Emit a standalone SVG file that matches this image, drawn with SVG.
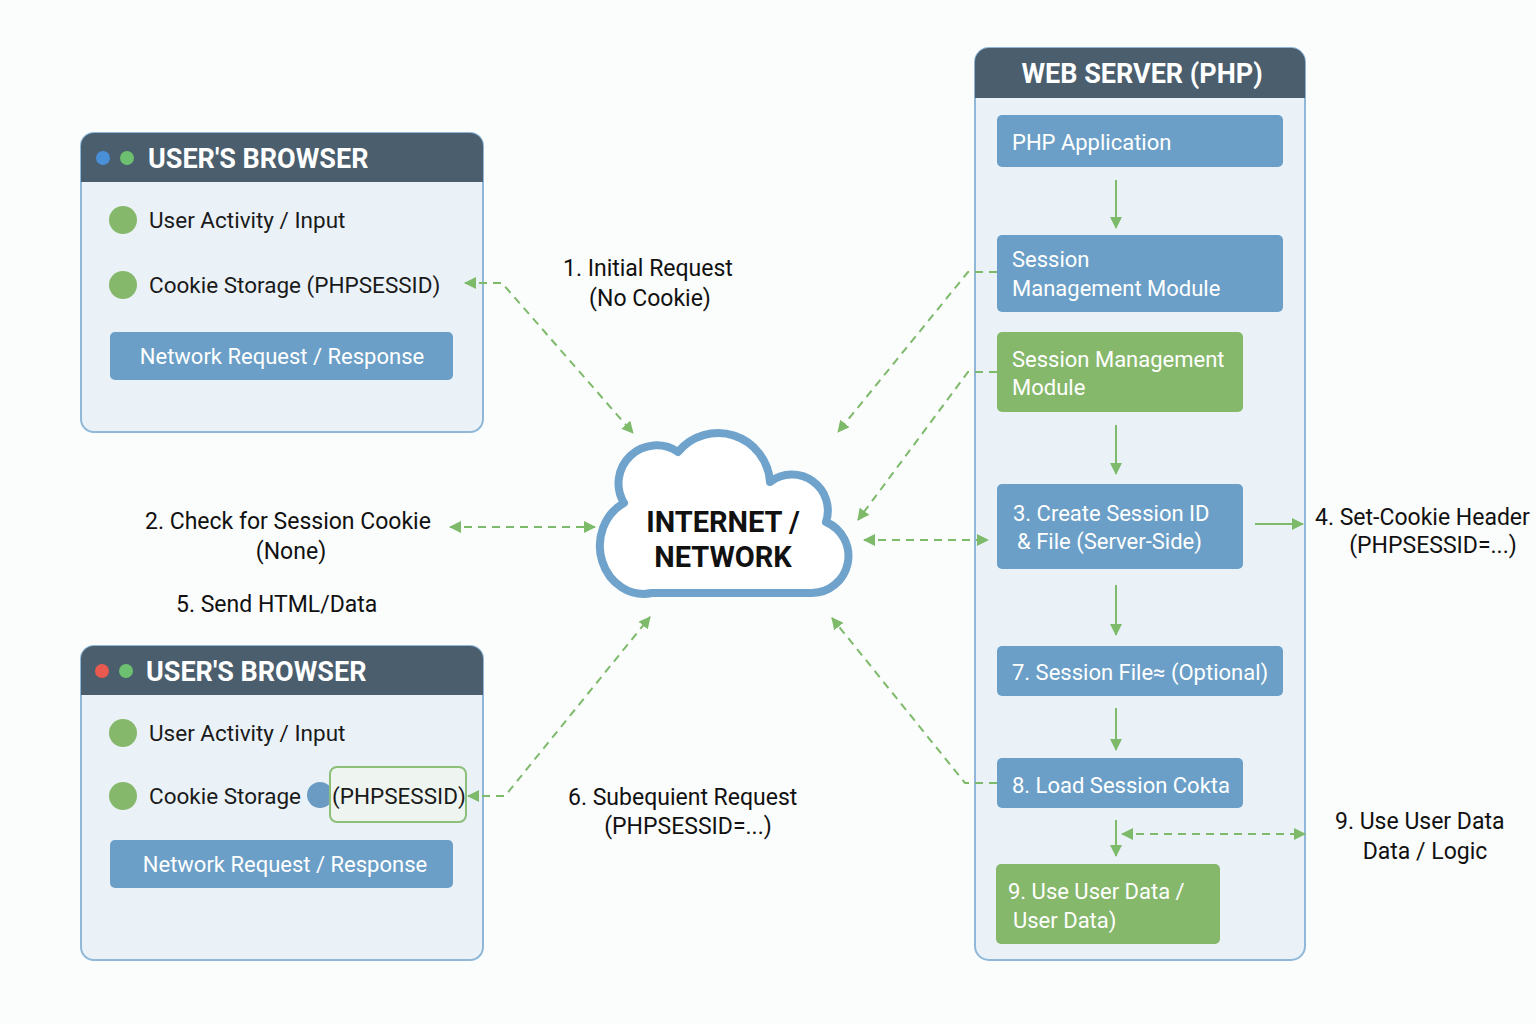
<svg xmlns="http://www.w3.org/2000/svg" width="1536" height="1024" viewBox="0 0 1536 1024">
<defs>
<style>
text{font-family:Roboto,"Liberation Sans",sans-serif;}
.panel{fill:#eaf2f8;stroke:#8fb8d8;stroke-width:2;}
.hdr{fill:#4a5e6d;}
.title{fill:#fff;font-weight:bold;font-size:27px;}
.item{fill:#1a1a1a;font-size:22.5px;}
.dot{fill:#86b86c;}
.blue{fill:#6b9fc7;}
.green{fill:#86b86c;}
.btxt{fill:#fff;font-size:22px;}
.lbl{fill:#111;font-size:23px;}
.dash{fill:none;stroke:#7dba6a;stroke-width:2;stroke-dasharray:8 6;}
.solid{fill:none;stroke:#7dba6a;stroke-width:2;}
</style>
<marker id="ah" viewBox="0 0 12 12" refX="11" refY="6" markerWidth="12" markerHeight="12" markerUnits="userSpaceOnUse" orient="auto-start-reverse">
<path d="M0,0 L12,6 L0,12 Z" fill="#7dba6a"/>
</marker>
</defs>
<rect width="1536" height="1024" fill="#fbfcfc"/>

<g id="browser-top">
<rect class="panel" x="81" y="133" width="402" height="299" rx="13"/>
<path class="hdr" d="M81,182 V146 a13,13 0 0 1 13,-13 H470 a13,13 0 0 1 13,13 V182 Z"/>
<circle cx="103" cy="158" r="7" fill="#4a90d9"/>
<circle cx="127" cy="158" r="7" fill="#6cc070"/>
<text class="title" x="148" y="168">USER'S BROWSER</text>
<circle class="dot" cx="123" cy="220" r="14"/>
<text class="item" x="149" y="228">User Activity / Input</text>
<circle class="dot" cx="123" cy="285" r="14"/>
<text class="item" x="149" y="293">Cookie Storage (PHPSESSID)</text>
<rect class="blue" x="110" y="332" width="343" height="48" rx="5"/>
<text class="btxt" x="282" y="364" text-anchor="middle">Network Request / Response</text>
</g>

<g id="browser-bottom">
<rect class="panel" x="81" y="646" width="402" height="314" rx="13"/>
<path class="hdr" d="M81,695 V659 a13,13 0 0 1 13,-13 H470 a13,13 0 0 1 13,13 V695 Z"/>
<circle cx="102" cy="671" r="7" fill="#e85a4f"/>
<circle cx="126" cy="671" r="7" fill="#6cc070"/>
<text class="title" x="146" y="681">USER'S BROWSER</text>
<circle class="dot" cx="123" cy="733" r="14"/>
<text class="item" x="149" y="741">User Activity / Input</text>
<circle class="dot" cx="123" cy="796" r="14"/>
<text class="item" x="149" y="804">Cookie Storage</text>
<circle cx="320" cy="795" r="13" fill="#6b9ac2"/>
<rect x="330" y="767" width="136" height="55" rx="7" fill="#eef4f0" stroke="#8cc07a" stroke-width="2"/>
<text class="item" x="332" y="804">(PHPSESSID)</text>
<rect class="blue" x="110" y="840" width="343" height="48" rx="5"/>
<text class="btxt" x="285" y="872" text-anchor="middle">Network Request / Response</text>
</g>

<g id="cloud">
<path d="M652,593 A44,48 0 0 1 624,503 A38,38 0 0 1 678,452 A52,52 0 0 1 770,482 A36,36 0 0 1 826,522 A37,37 0 0 1 812,593 Z" fill="#ffffff" stroke="#6fa3cc" stroke-width="8" stroke-linejoin="round"/>
<text x="723" y="532" text-anchor="middle" font-size="29" font-weight="bold" fill="#111">INTERNET /</text>
<text x="723" y="567" text-anchor="middle" font-size="29" font-weight="bold" fill="#111">NETWORK</text>
</g>

<g id="web-server">
<rect class="panel" x="975" y="48" width="330" height="912" rx="14"/>
<path class="hdr" d="M975,98 V62 a14,14 0 0 1 14,-14 H1291 a14,14 0 0 1 14,14 V98 Z"/>
<text class="title" x="1142" y="83" text-anchor="middle">WEB SERVER (PHP)</text>
</g>

<g id="php-app">
<rect class="blue" x="997" y="115" width="286" height="52" rx="5"/>
<text class="btxt" x="1012" y="150">PHP Application</text>
</g>
<g id="session-module-blue">
<rect class="blue" x="997" y="235" width="286" height="77" rx="5"/>
<text class="btxt" x="1012" y="267">Session</text>
<text class="btxt" x="1012" y="296">Management Module</text>
</g>
<g id="session-module-green">
<rect class="green" x="997" y="332" width="246" height="80" rx="5"/>
<text class="btxt" x="1012" y="367">Session Management</text>
<text class="btxt" x="1012" y="395">Module</text>
</g>
<g id="create-session">
<rect class="blue" x="997" y="484" width="246" height="85" rx="5"/>
<text class="btxt" x="1013" y="521">3. Create Session ID</text>
<text class="btxt" x="1017" y="549">&amp; File (Server-Side)</text>
</g>
<g id="session-file">
<rect class="blue" x="997" y="646" width="286" height="50" rx="5"/>
<text class="btxt" x="1012" y="680">7. Session File≈ (Optional)</text>
</g>
<g id="load-session">
<rect class="blue" x="997" y="758" width="246" height="50" rx="5"/>
<text class="btxt" x="1012" y="793">8. Load Session Cokta</text>
</g>
<g id="use-user-data">
<rect class="green" x="996" y="864" width="224" height="80" rx="5"/>
<text class="btxt" x="1008" y="899">9. Use User Data /</text>
<text class="btxt" x="1013" y="928">User Data)</text>
</g>

<g id="labels">
<text class="lbl" x="563" y="276">1. Initial Request</text>
<text class="lbl" x="650" y="306" text-anchor="middle">(No Cookie)</text>
<text class="lbl" x="145" y="529">2. Check for Session Cookie</text>
<text class="lbl" x="291" y="559" text-anchor="middle">(None)</text>
<text class="lbl" x="176" y="612">5. Send HTML/Data</text>
<text class="lbl" x="568" y="805">6. Subequient Request</text>
<text class="lbl" x="688" y="834" text-anchor="middle">(PHPSESSID=...)</text>
<text class="lbl" x="1315" y="525">4. Set-Cookie Header</text>
<text class="lbl" x="1433" y="553" text-anchor="middle">(PHPSESSID=...)</text>
<text class="lbl" x="1335" y="829">9. Use User Data</text>
<text class="lbl" x="1425" y="859" text-anchor="middle">Data / Logic</text>
</g>

<g id="connectors">
<path class="dash" d="M465,283 L502,283 L633,433" marker-start="url(#ah)" marker-end="url(#ah)"/>
<path class="dash" d="M997,272 L968,272 L838,432" marker-end="url(#ah)"/>
<path class="dash" d="M997,372 L968,372 L858,520" marker-end="url(#ah)"/>
<path class="dash" d="M450,527 L595,527" marker-start="url(#ah)" marker-end="url(#ah)"/>
<path class="dash" d="M864,540 L988,540" marker-start="url(#ah)" marker-end="url(#ah)"/>
<path class="dash" d="M468,796 L505,796 L650,617" marker-start="url(#ah)" marker-end="url(#ah)"/>
<path class="dash" d="M997,783 L965,783 L832,618" marker-end="url(#ah)"/>
<path class="dash" d="M1122,834 L1305,834" marker-start="url(#ah)" marker-end="url(#ah)"/>
<path class="solid" d="M1116,180 L1116,228" marker-end="url(#ah)"/>
<path class="solid" d="M1116,425 L1116,474" marker-end="url(#ah)"/>
<path class="solid" d="M1116,585 L1116,635" marker-end="url(#ah)"/>
<path class="solid" d="M1116,708 L1116,750" marker-end="url(#ah)"/>
<path class="solid" d="M1116,820 L1116,856" marker-end="url(#ah)"/>
<path class="solid" d="M1255,524 L1303,524" marker-end="url(#ah)"/>
</g>
</svg>
